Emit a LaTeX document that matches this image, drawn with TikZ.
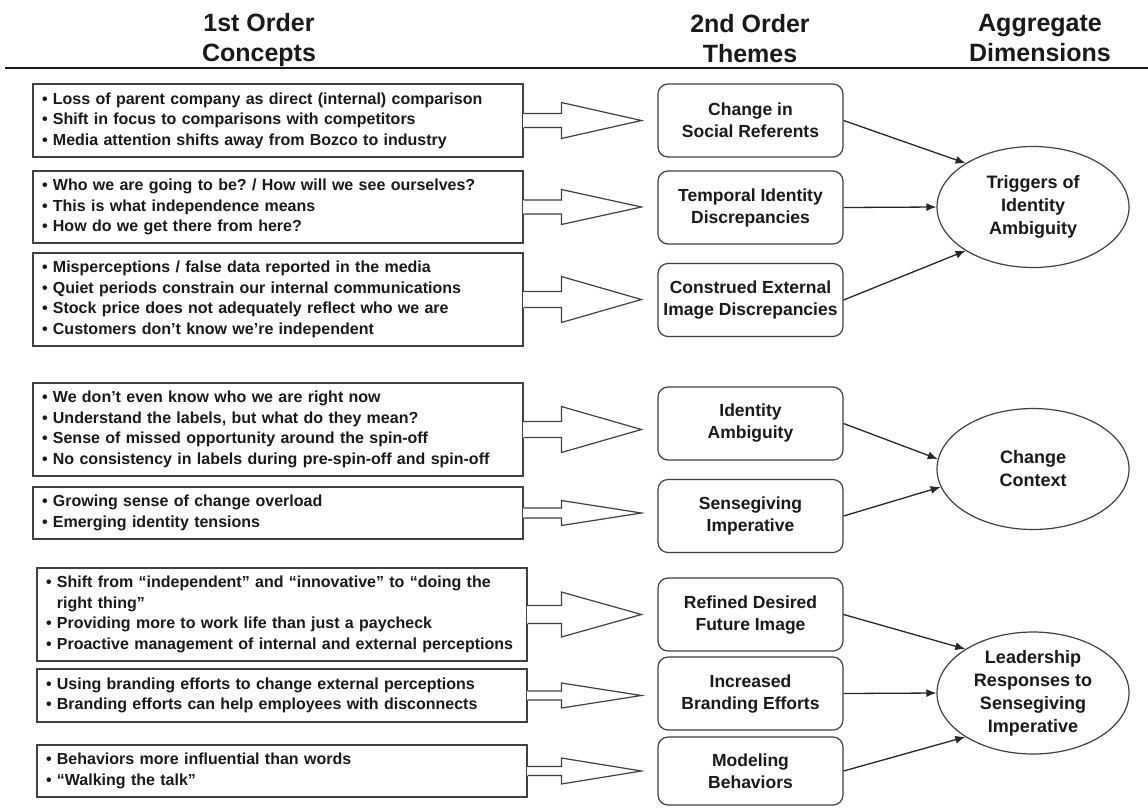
\documentclass[tikz,border=0pt]{standalone}
\usepackage{fontspec}
\setmainfont{Liberation Sans}
\frenchspacing
\usetikzlibrary{calc,arrows.meta,shapes.geometric}
\tikzset{
	concept/.style={draw=black!75, line width=1.2pt, fill=white, text width=472pt, inner xsep=9pt, inner ysep=0pt, align=left, text=black!90, font=\fontsize{16}{20.5}\selectfont\bfseries},
	theme/.style={draw=black!75, line width=1.2pt, rounded corners=10pt, minimum width=185pt, minimum height=73pt, align=center, text=black!90, font=\fontsize{17.5}{22}\selectfont\bfseries},
	dimension/.style={draw=black!75, line width=1.2pt, ellipse, minimum width=192pt, minimum height=121pt, inner sep=0pt, align=center, text=black!90, font=\fontsize{18}{23}\selectfont\bfseries},
	heading/.style={align=center, text=black!90, font=\fontsize{25}{30}\selectfont\bfseries},
	link/.style={draw=black!85, line width=1.3pt, -{Latex[length=10pt,width=8pt]}},
	hollow/.style={draw=black!75, line width=1.2pt, line join=miter}
}
\def\bul{•\ }
\def\blockarrow(#1)(#2)(#3:#4){
	\fill[white] ($(#1.east)+(-1,-#3)$) rectangle ($(#1.east)+(1,#3)$);
	\draw[hollow] ($(#1.east)+(0,-#3)$) -- ($(#1.east -| #2.west)+(-96,-#3)$) -- ($(#1.east -| #2.west)+(-96,-#4)$) -- ($(#1.east -| #2.west)+(-16,0)$) -- ($(#1.east -| #2.west)+(-96,#4)$) -- ($(#1.east -| #2.west)+(-96,#3)$) -- ($(#1.east)+(0,#3)$);
}

\begin{document}
\begin{tikzpicture}[x=1pt, y=-1pt]
	%%%%% START %%%%%
	\fill[white] (0,0) rectangle (1148,807);
	\useasboundingbox (0,0) rectangle (1148,807);
	
	\node[heading] (h1) at (259,40.5) {1st Order\\Concepts};
	\node[heading] (h2) at (750,38.5) {2nd Order\\Themes};
	\node[heading] (h3) at (1040,38.5) {Aggregate\\Dimensions};
	\draw[line width=2pt, black!90] (5,68) -- (1148,68);
	
	% 1st order concepts
	\node[concept, minimum height=73pt] (c1) at (278,120.5) {\bul Loss of parent company as direct (internal) comparison\\\bul Shift in focus to comparisons with competitors\\\bul Media attention shifts away from Bozco to industry};
	\node[concept, minimum height=72pt] (c2) at (278,207) {\bul Who we are going to be? / How will we see ourselves?\\\bul This is what independence means\\\bul How do we get there from here?};
	\node[concept, minimum height=93pt] (c3) at (278,299.5) {\bul Misperceptions / false data reported in the media\\\bul Quiet periods constrain our internal communications\\\bul Stock price does not adequately reflect who we are\\\bul Customers don’t know we’re independent};
	\node[concept, minimum height=93pt] (c4) at (278,429.5) {\bul We don’t even know who we are right now\\\bul Understand the labels, but what do they mean?\\\bul Sense of missed opportunity around the spin-off\\\bul No consistency in labels during pre-spin-off and spin-off};
	\node[concept, minimum height=52pt] (c5) at (278,513) {\bul Growing sense of change overload\\\bul Emerging identity tensions};
	\node[concept, minimum height=93pt] (c6) at (282,614.5) {\bul Shift from “independent” and “innovative” to “doing the\\\hphantom{\bul}right thing”\\\bul Providing more to work life than just a paycheck\\\bul Proactive management of internal and external perceptions};
	\node[concept, minimum height=53pt] (c7) at (282,695.5) {\bul Using branding efforts to change external perceptions\\\bul Branding efforts can help employees with disconnects};
	\node[concept, minimum height=52pt] (c8) at (282,771) {\bul Behaviors more influential than words\\\bul “Walking the talk”};
	
	% 2nd order themes
	\node[theme] (t1) at (750.5,120.5) {Change in\\Social Referents};
	\node[theme] (t2) at (750.5,207.5) {Temporal Identity\\Discrepancies};
	\node[theme] (t3) at (750.5,300) {Construed External\\Image Discrepancies};
	\node[theme] (t4) at (750.5,423.5) {Identity\\Ambiguity};
	\node[theme] (t5) at (750.5,516) {Sensegiving\\Imperative};
	\node[theme] (t6) at (750.5,614.5) {Refined Desired\\Future Image};
	\node[theme] (t7) at (750.5,693.5) {Increased\\Branding Efforts};
	\node[theme, minimum height=68pt] (t8) at (750.5,771) {Modeling\\Behaviors};
	
	% aggregate dimensions
	\node[dimension] (d1) at (1033,207) {Triggers of\\Identity\\Ambiguity};
	\node[dimension] (d2) at (1033,469) {Change\\Context};
	\node[dimension, minimum height=122pt] (d3) at (1033,693) {Leadership\\Responses to\\Sensegiving\\Imperative};
	
	\blockarrow(c1)(t1)(7:18)
	\blockarrow(c2)(t2)(7:17.5)
	\blockarrow(c3)(t3)(8:23)
	\blockarrow(c4)(t4)(8:23)
	\blockarrow(c5)(t5)(5:12.5)
	\blockarrow(c6)(t6)(9:22.5)
	\blockarrow(c7)(t7)(4.5:12.5)
	\blockarrow(c8)(t8)(4.5:13)
	
	\draw[link] (t1.east) -- (d1.147);
	\draw[link] (t2.east) -- (d1.west);
	\draw[link] (t3.east) -- (d1.213);
	\draw[link] (t4.east) -- (d2.174);
	\draw[link] (t5.east) -- (d2.191);
	\draw[link] (t6.east) -- (d3.147);
	\draw[link] (t7.east) -- (d3.west);
	\draw[link] (t8.east) -- (d3.213);
	%%%%% END %%%%%
\end{tikzpicture}
\end{document}
